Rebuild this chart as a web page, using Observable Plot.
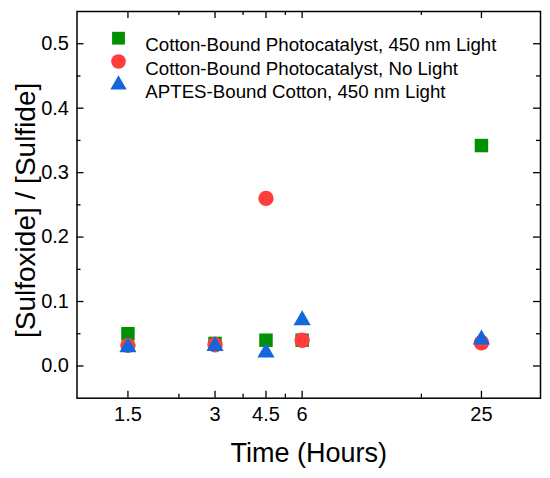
<!DOCTYPE html>
<html>
<head>
<meta charset="utf-8">
<script src="https://cdn.jsdelivr.net/npm/d3@7"></script>
<script src="https://cdn.jsdelivr.net/npm/@observablehq/plot@0.6"></script>
<style>
  html, body { margin: 0; padding: 0; background: #fff; }
  #chart svg { display: block; font-family: "Liberation Sans", Arial, sans-serif; }
</style>
</head>
<body>
<div id="chart"></div>
<script>
// ---- data ----
const times = [1.5, 3, 4.5, 6, 25];
const seriesNames = [
  "Cotton-Bound Photocatalyst, 450 nm Light",
  "Cotton-Bound Photocatalyst, No Light",
  "APTES-Bound Cotton, 450 nm Light"
];
const litValues = [0.05, 0.035, 0.04, 0.04, 0.342];
const darkValues = [0.032, 0.033, 0.26, 0.04, 0.036];
const aptesValues = [0.029, 0.031, 0.021, 0.071, 0.041];
const xTicks = [1.5, 3, 4.5, 6, 25];
const xTickLabels = ["1.5", "3", "4.5", "6", "25"];
const xMinorTicks = [2.25, 3.75, 5.25, 15.5];
const yTicks = [0.0, 0.1, 0.2, 0.3, 0.4, 0.5];
const yTickLabels = ["0.0", "0.1", "0.2", "0.3", "0.4", "0.5"];
const yMinorTicks = [0.05, 0.15, 0.25, 0.35, 0.45];
const xLabel = "Time (Hours)";
const yLabel = "[Sulfoxide] / [Sulfide]";

// ---- styles ----
const colors = ["#009100", "#ff3d3d", "#1466dc"];
const symbols = ["square", "circle", "triangle"];
const radii = [7.6, 7.7, 6.4];

const seriesValues = [litValues, darkValues, aptesValues];
const seriesData = seriesValues.map(vals => times.map((t, i) => ({t, v: vals[i]})));
const xLabelData = xTicks.map((t, i) => ({t, label: xTickLabels[i]}));
const yLabelData = yTicks.map((v, i) => ({v, label: yTickLabels[i]}));

const W = 550, H = 478;
const mL = 76.5, mR = 10, mT = 11, mB = 80.3;
const frameW = W - mL - mR, frameH = H - mT - mB;
const font = "Liberation Sans, Arial, sans-serif";
const majorLen = 7, minorLen = 4;

const marks = [];
// inward ticks on all four sides
for (const [vals, len] of [[xTicks, majorLen], [xMinorTicks, minorLen]]) {
  marks.push(Plot.tickX(vals, {x: d => d, insetTop: frameH - len, stroke: "black", strokeWidth: 1.3}));
  marks.push(Plot.tickX(vals, {x: d => d, insetBottom: frameH - len, stroke: "black", strokeWidth: 1.3}));
}
for (const [vals, len] of [[yTicks, majorLen], [yMinorTicks, minorLen]]) {
  marks.push(Plot.tickY(vals, {y: d => d, insetRight: frameW - len, stroke: "black", strokeWidth: 1.3}));
  marks.push(Plot.tickY(vals, {y: d => d, insetLeft: frameW - len, stroke: "black", strokeWidth: 1.3}));
}
// tick labels
marks.push(Plot.text(xLabelData, {x: "t", text: "label", frameAnchor: "bottom", dy: 9, lineAnchor: "top", textAnchor: "middle", fontSize: 20, fill: "black"}));
marks.push(Plot.text(yLabelData, {y: "v", text: "label", frameAnchor: "left", dx: -8, textAnchor: "end", fontSize: 20, fill: "black"}));
marks.push(Plot.frame({stroke: "black", strokeWidth: 1.5}));

// data points
seriesData.forEach((data, k) => {
  marks.push(Plot.dot(data, {x: "t", y: "v", symbol: () => symbols[k], r: radii[k], fill: colors[k], stroke: "none"}));
});

// in-plot legend
seriesNames.forEach((name, k) => {
  const dy = 26.7 + k * 23.3;
  marks.push(Plot.dot([name], {frameAnchor: "top-left", dx: 41.5, dy, symbol: () => symbols[k], r: radii[k] * 0.95, fill: colors[k], stroke: "none"}));
  marks.push(Plot.text([name], {frameAnchor: "top-left", dx: 68.3, dy, text: d => d, textAnchor: "start", fontSize: 18.7, fill: "black"}));
});

// axis titles
marks.push(Plot.text([xLabel], {frameAnchor: "bottom", dy: 64, text: d => d, textAnchor: "middle", fontSize: 27, fill: "black"}));
marks.push(Plot.text([yLabel], {frameAnchor: "left", dx: -51, dy: 5.5, rotate: -90, text: d => d, textAnchor: "middle", fontSize: 28, fill: "black"}));

const chart = Plot.plot({
  width: W,
  height: H,
  marginLeft: mL,
  marginRight: mR,
  marginTop: mT,
  marginBottom: mB,
  style: {fontFamily: font, background: "white", color: "black"},
  x: {type: "log", domain: [1, 40], axis: null},
  y: {domain: [-0.05, 0.55], axis: null},
  symbol: {type: "identity"},
  marks
});
document.getElementById("chart").appendChild(chart);
</script>
</body>
</html>
